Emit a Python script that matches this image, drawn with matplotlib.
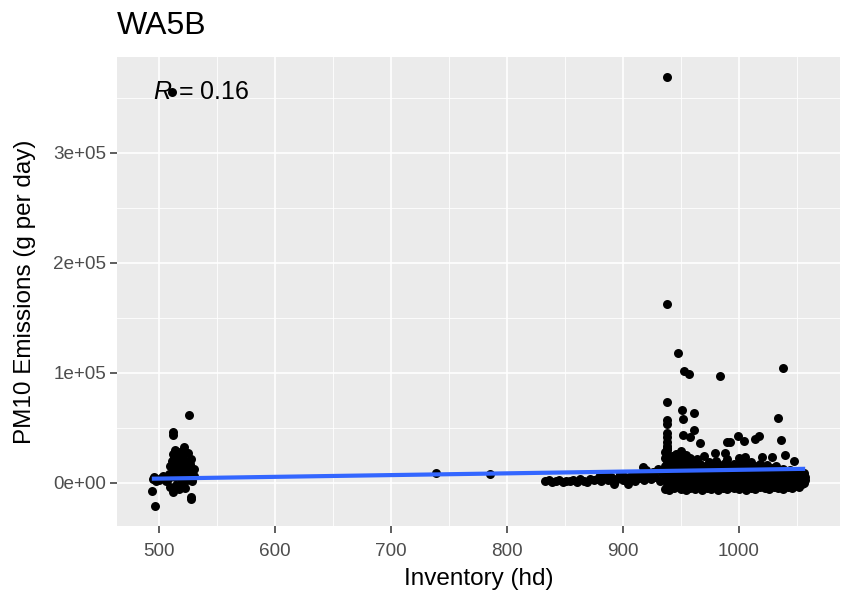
import matplotlib.pyplot as plt
import numpy as np

plt.rcParams['font.family'] = ['Liberation Sans', 'DejaVu Sans']
plt.rcParams['mathtext.fontset'] = 'custom'
plt.rcParams['mathtext.it'] = 'Liberation Sans:italic'
plt.rcParams['mathtext.rm'] = 'Liberation Sans'

# WA5B data: inventory (hd) vs PM10 emissions (g per day)
inv_left = [494, 495, 496, 497, 498, 500, 502, 504, 506, 508, 509, 510, 510,
            511, 511, 512, 512, 512, 512, 513, 513, 514, 514, 515, 515, 516,
            516, 517, 517, 518, 518, 519, 519, 520, 520, 521, 521, 522, 522,
            523, 523, 524, 524, 525, 525, 526, 526, 527, 527, 528, 528, 528,
            529, 529, 530, 530]
pm10_left = [-8000, 3000, 5000, -21000, 1000, 2000, 4000, 6000, 1000, 3000,
             8000, 15000, -4000, 20000, 355000, 46000, 43000, 26000, -9000,
             10000, 22000, 5000, 30000, 12000, -2000, 18000, 25000, 7000,
             -6000, 14000, 28000, 3000, 20000, 9000, -3000, 16000, 24000,
             32000, 6000, 11000, -5000, 19000, 2000, 13000, 27000, 61000,
             8000, 4000, 17000, 21000, -13000, -15000, 10000, 1000, 6000,
             12000]

inv_mid = [739, 785]
pm10_mid = [9000, 7500]

inv_low = [833, 836, 839, 842, 845, 848, 851, 854, 857, 860, 863, 866, 869,
           872, 875, 878, 881, 884, 887, 890, 893, 896, 899, 880, 886, 892,
           897]
pm10_low = [1000, 2000, 800, 1500, 2500, 600, 1800, 1200, 2200, 900, 3000,
            1600, 400, 2800, 1900, 3500, 1100, 4200, 2600, 5000, 1400, 3800,
            6000, 6500, 7500, -1000, 8000]

inv_right = [900, 902, 904, 906, 908, 910, 912, 914, 916, 918, 920, 922, 924,
             926, 928, 930, 932, 934,
             936, 936, 936, 936, 936, 936,
             938, 938, 938, 938, 938, 938,
             940, 940, 940, 940, 940,
             942, 942, 942, 942, 942,
             944, 944, 944, 944, 944,
             946, 946, 946, 946, 946,
             948, 948, 948, 948, 948,
             950, 950, 950, 950, 950,
             952, 952, 952, 952,
             954, 954, 954, 954, 954,
             956, 956, 956, 956,
             958, 958, 958, 958, 958,
             960, 960, 960, 960,
             962, 962, 962, 962,
             964, 964, 964, 964,
             966, 966, 966, 966,
             968, 968, 968, 968,
             970, 970, 970, 970,
             972, 972, 972, 972,
             974, 974, 974, 974,
             976, 976, 976,
             978, 978, 978, 978,
             980, 980, 980, 980,
             982, 982, 982, 982,
             984, 984, 984,
             986, 986, 986, 986,
             988, 988, 988, 988,
             990, 990, 990, 990,
             992, 992, 992, 992,
             994, 994, 994,
             996, 996, 996, 996,
             998, 998, 998,
             1000, 1000, 1000, 1000, 1000,
             1002, 1002, 1002,
             1004, 1004, 1004, 1004,
             1006, 1006, 1006, 1006,
             1008, 1008, 1008,
             1010, 1010, 1010, 1010,
             1012, 1012, 1012,
             1014, 1014, 1014, 1014,
             1016, 1016, 1016,
             1018, 1018, 1018, 1018,
             1020, 1020, 1020, 1020,
             1022, 1022, 1022,
             1024, 1024, 1024, 1024,
             1026, 1026, 1026,
             1028, 1028, 1028, 1028,
             1030, 1030, 1030,
             1032, 1032, 1032, 1032,
             1034, 1034, 1034,
             1036, 1036, 1036,
             1038, 1038, 1038, 1038,
             1040, 1040, 1040,
             1042, 1042, 1042,
             1044, 1044, 1044,
             1046, 1046, 1046,
             1048, 1048, 1048,
             1050, 1050, 1050,
             1052, 1052, 1052,
             1054, 1054, 1054,
             1056, 1056, 1056,
             1057, 1057]
pm10_right = [2000, 5000, -1000, 3500, 8000, 1500, 6000, 4000, 9000, 2500,
              11000, 7000, 3000, 10000, 5500, 12000, 1000, 8500,
              -6000, 2000, 9000, 15000, 22000, 28000,
              -3000, 5000, 12000, 18000, 25000, 31000,
              -7000, 1000, 7000, 14000, 20000,
              -2000, 4000, 11000, 17000, 24000,
              -5000, 3000, 9000, 16000, 21000,
              0, 6000, 13000, 19000, 26000,
              -4000, 2000, 8000, 15000, 23000,
              -6000, 1000, 10000, 17000, 29000,
              -1000, 5000, 12000, 20000,
              -7000, 3000, 9000, 16000, 25000,
              -3000, 4000, 11000, 18000,
              -5000, 2000, 8000, 14000, 22000,
              -2000, 6000, 13000, 19000,
              -6000, 1000, 9000, 15000,
              -4000, 3000, 10000, 21000,
              -1000, 5000, 12000, 17000,
              -7000, 2000, 8000, 14000,
              -3000, 4000, 11000, 24000,
              -5000, 1000, 7000, 16000,
              -2000, 6000, 13000, 19000,
              -6000, 3000, 9000,
              -4000, 2000, 10000, 15000,
              -1000, 5000, 12000, 20000,
              -7000, 1000, 8000, 17000,
              -3000, 4000, 11000,
              -5000, 2000, 9000, 14000,
              -2000, 6000, 12000, 18000,
              -6000, 3000, 10000, 21000,
              -4000, 1000, 7000, 15000,
              -1000, 5000, 13000,
              -5000, 2000, 8000, 17000,
              -3000, 4000, 11000,
              -6000, 1000, 9000, 16000, 22000,
              -2000, 6000, 12000,
              -4000, 3000, 10000, 18000,
              -7000, 2000, 8000, 14000,
              -1000, 5000, 13000,
              -5000, 1000, 9000, 19000,
              -3000, 4000, 11000,
              -6000, 2000, 7000, 15000,
              -2000, 6000, 12000,
              -4000, 3000, 10000, 17000,
              -1000, 1000, 8000, 14000,
              -5000, 5000, 11000,
              -3000, 2000, 9000, 16000,
              -6000, 4000, 12000,
              -2000, 1000, 7000, 13000,
              -4000, 6000, 10000,
              -1000, 3000, 8000, 15000,
              -5000, 2000, 11000,
              -3000, 5000, 9000,
              -6000, 1000, 7000, 12000,
              -2000, 4000, 10000,
              -4000, 3000, 8000,
              -1000, 6000, 11000,
              -5000, 2000, 9000,
              -3000, 4000, 7000,
              -2000, 1000, 8000,
              -4000, 5000, 10000,
              -1000, 3000, 6000,
              0, 7000, 9000,
              2000, 5000]

inv_high = [938, 938, 947, 953, 957, 984, 1038, 938, 951, 961, 952, 938, 938,
            961, 952, 958, 938, 966, 990, 979, 988, 917, 1034, 992, 1004,
            1014, 1017, 1036, 1005, 1020, 1028, 938, 938, 938, 938, 999,
            1040, 1047]
pm10_high = [369000, 162000, 118000, 101000, 99000, 97000, 104000, 73000,
             66000, 63000, 58000, 57000, 53000, 48000, 43000, 41000, 37000,
             36000, 37000, 27000, 27000, 14000, 59000, 37000, 38000, 40000,
             42000, 39000, 23000, 23000, 23000, 45000, 41000, 33000, 30000,
             42000, 25000, 20000]

# fitted line (geom_smooth, method = lm) read at the ends of the x range
fit_inv = [494, 1057]
fit_pm10 = [3500, 12500]
r_label = '0.16'

x_ticks = [500, 600, 700, 800, 900, 1000]
y_ticks = [0, 100000, 200000, 300000]
y_tick_labels = ['0e+00', '1e+05', '2e+05', '3e+05']

inventory = np.array(inv_left + inv_mid + inv_low + inv_right + inv_high)
pm10 = np.array(pm10_left + pm10_mid + pm10_low + pm10_right + pm10_high)

fig = plt.figure(figsize=(8.45, 5.94), dpi=100)
ax = fig.add_axes([117 / 845, 68 / 594, 723 / 845, 469 / 594])
ax.set_facecolor('#EBEBEB')
for s in ax.spines.values():
    s.set_visible(False)

ax.set_xlim(464, 1087)
ax.set_ylim(-39500, 387000)
ax.set_xticks(x_ticks)
ax.set_xticks([550, 650, 750, 850, 950, 1050], minor=True)
ax.set_yticks(y_ticks)
ax.set_yticklabels(y_tick_labels)
ax.set_yticks([50000, 150000, 250000, 350000], minor=True)
ax.grid(which='major', color='white', linewidth=1.2)
ax.grid(which='minor', color='white', linewidth=0.6)
ax.set_axisbelow(True)
ax.tick_params(which='major', length=5, width=1.1, color='#333333',
               labelsize=13.6, labelcolor='#4D4D4D', pad=3)
ax.tick_params(axis='x', which='major', pad=7)
ax.tick_params(which='minor', length=0)

ax.text(495, 355000, r'$\it{R}$ = ' + r_label, fontsize=18, color='black',
        ha='left', va='center', zorder=2)

ax.scatter(inventory, pm10, s=42, color='black', linewidths=0, zorder=3)
ax.plot(fit_inv, fit_pm10, color='#3366FF', linewidth=3, zorder=4,
        solid_capstyle='butt')

ax.set_xlabel('Inventory (hd)', fontsize=17.5, labelpad=6)
ax.set_ylabel('PM10 Emissions (g per day)', fontsize=17.5, labelpad=12)
fig.text(117 / 845, 1 - 26 / 594, 'WA5B', fontsize=23, ha='left', va='center')

plt.savefig('out.png', dpi=100, facecolor='white')
